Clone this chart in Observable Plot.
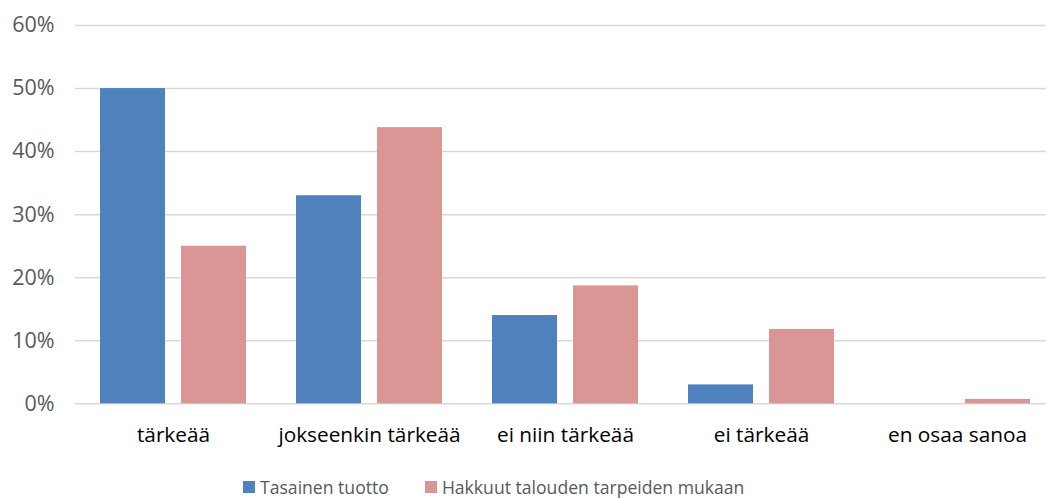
<!DOCTYPE html>
<html>
<head>
<meta charset="utf-8">
<script src="https://cdn.jsdelivr.net/npm/d3@7"></script>
<script src="https://cdn.jsdelivr.net/npm/@observablehq/plot@0.6"></script>
<style>
  html, body { margin: 0; padding: 0; background: #fff; overflow: hidden; width: 1046px; height: 499px; }
  #wrap { position: relative; width: 1046px; height: 499px; overflow: hidden; }
  #legend { position: absolute; top: 475px; left: 243px; display: flex; align-items: center; font-family: "Open Sans", sans-serif; font-size: 17.6px; color: #595959; white-space: nowrap; }
  .item { display: flex; align-items: center; margin-right: 36px; }
  .sw { width: 12px; height: 12px; margin-right: 5px; }
</style>
</head>
<body>
<div id="wrap"><div id="chart"></div><div id="legend"></div></div>
<script>
const categories = ["tärkeää", "jokseenkin tärkeää", "ei niin tärkeää", "ei tärkeää", "en osaa sanoa"];
const series = ["Tasainen tuotto", "Hakkuut talouden tarpeiden mukaan"];
const tasainenTuotto = [50, 33, 14, 3, 0];
const hakkuut = [25, 43.8, 18.7, 11.8, 0.7];
const colors = ["#4F81BD", "#D99694"];
const yTicks = [0, 10, 20, 30, 40, 50, 60];

const data = [];
categories.forEach((c, i) => {
  data.push({category: c, series: series[0], value: tasainenTuotto[i]});
  data.push({category: c, series: series[1], value: hakkuut[i]});
});

const chart = Plot.plot({
  width: 1056,
  height: 470,
  marginLeft: 74,
  marginRight: 0,
  marginTop: 25,
  marginBottom: 66.7,
  style: {fontFamily: "'Open Sans', sans-serif", fontSize: "18px", color: "#595959", maxWidth: "none", overflow: "hidden"},
  fx: {domain: categories, padding: 0, label: null},
  x: {domain: series, axis: null, paddingInner: 0.196, paddingOuter: 0.303},
  y: {domain: [0, 60], label: null},
  color: {domain: series, range: colors},
  marks: [
    Plot.ruleY(yTicks, {stroke: "#D9D9D9", strokeWidth: 1.5}),
    Plot.barY(data, {fx: "category", x: "series", y: "value", fill: "series"}),
    Plot.axisFx({anchor: "bottom", tickSize: 0, tickPadding: 23, label: null, fontSize: 20.8, fill: "#000"}),
    Plot.axisY(yTicks, {anchor: "left", tickSize: 0, tickPadding: 21, tickFormat: d => d + "%", label: null, fontSize: 21.5, fill: "#595959"})
  ]
});
document.getElementById("chart").appendChild(chart);

const legend = document.getElementById("legend");
series.forEach((s, i) => {
  const it = document.createElement("div");
  it.className = "item";
  const sw = document.createElement("span");
  sw.className = "sw";
  sw.style.background = colors[i];
  it.appendChild(sw);
  const t = document.createElement("span");
  t.textContent = s;
  it.appendChild(t);
  legend.appendChild(it);
});
</script>
</body>
</html>
